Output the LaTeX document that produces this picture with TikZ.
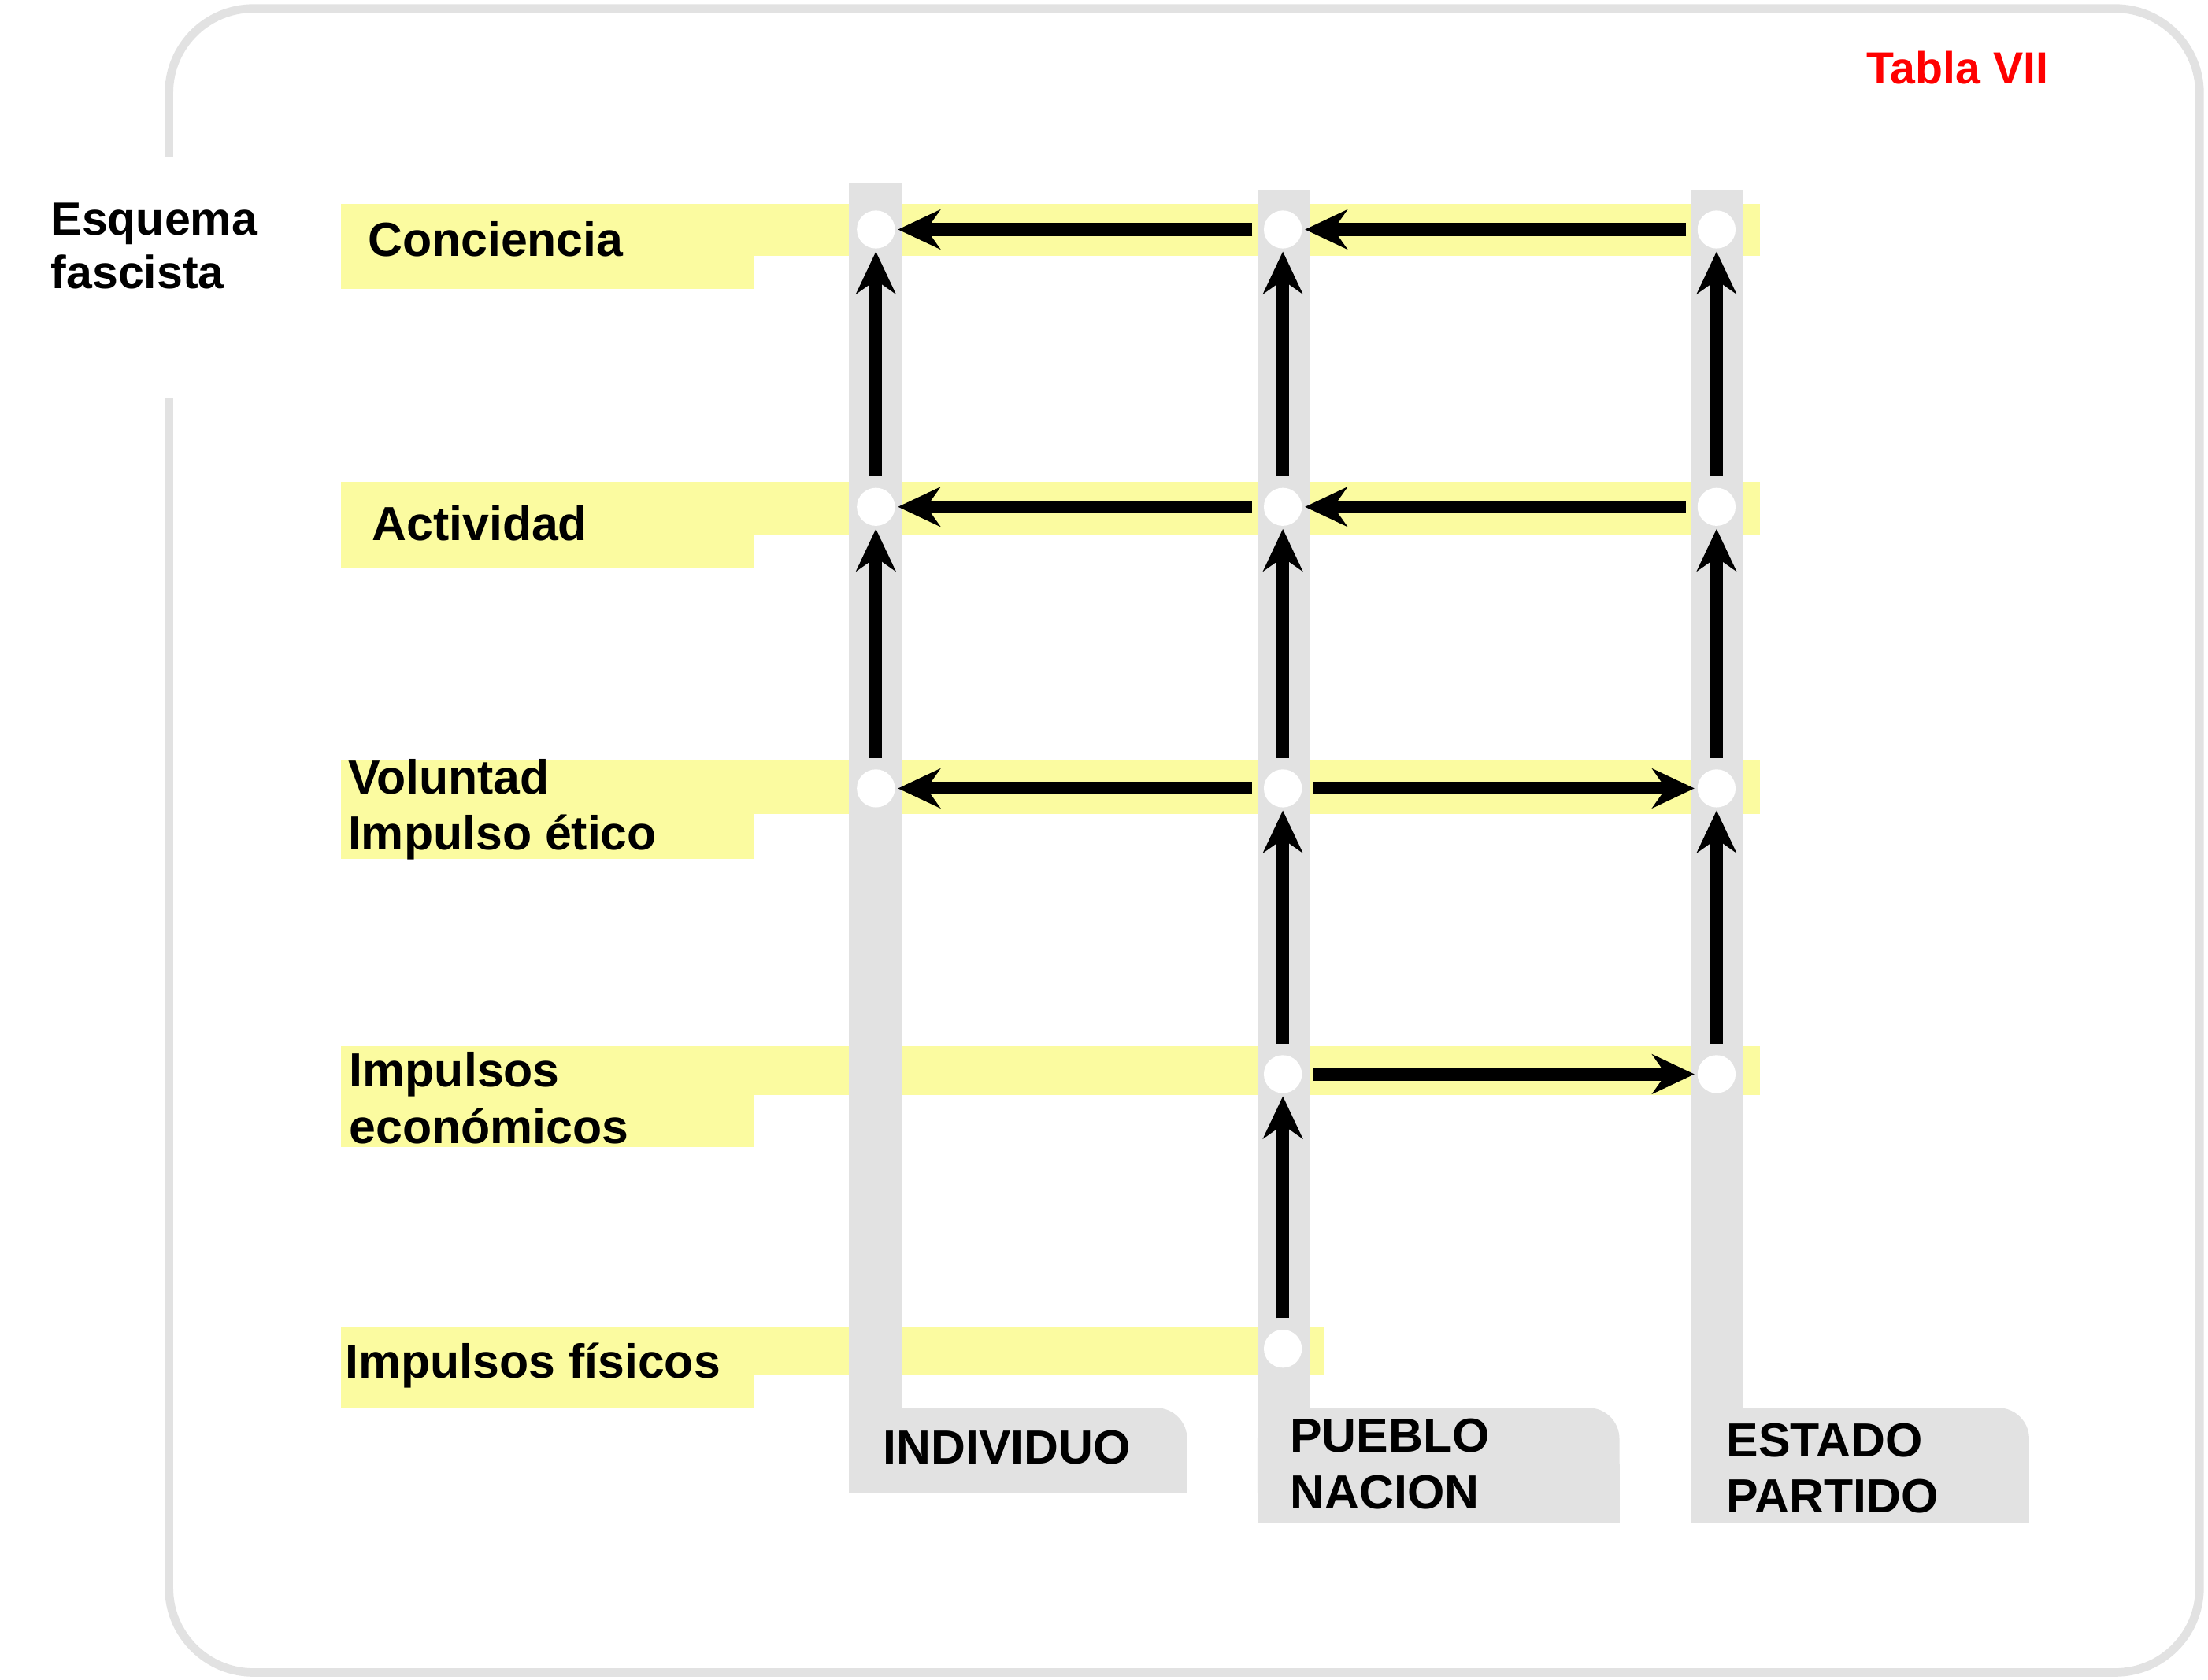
\documentclass[tikz,border=0pt]{standalone}
\usepackage{fontspec}
\setmainfont{Liberation Sans}
\usetikzlibrary{arrows.meta}
\definecolor{yel}{HTML}{FBFBA0}
\definecolor{gr}{HTML}{E2E2E2}
\begin{document}
\begin{tikzpicture}[x=1pt,y=-1pt,
  lab/.style={anchor=west,font=\fontsize{34}{40}\selectfont\bfseries,align=left,inner sep=0},
  dot/.style={circle,fill=white,minimum size=27pt,inner sep=0},
  arr/.style={line width=9pt,-{Stealth[length=30pt,width=28pt]},shorten <=8pt,shorten >=2pt}]
\useasboundingbox (0,0) rectangle (1568,1193);
\fill[white] (0,0) rectangle (1568,1193);
\draw[gr,line width=6pt,rounded corners=60pt] (120,6) rectangle (1562,1188);
\fill[white] (20,112) rectangle (125,283);
\node[lab,font=\fontsize{33}{38}\selectfont\bfseries] (esq) at (36,175) {Esquema\\fascista};
\node[text=red,font=\fontsize{32}{38}\selectfont\bfseries] (tab) at (1390,48) {Tabla VII};
% yellow bands
\foreach \t/\b/\m/\e in {145/205/182/1250,342/403/380/1250,540/610/578/1250,743/815/778/1250,942/1000/977/940}{
  \fill[yel] (242,\t) rectangle (535,\b);
  \fill[yel] (535,\t) rectangle (\e,\m);
}
% gray columns
\fill[gr] (603,130) rectangle (640,1060);
\fill[gr,rounded corners=22pt] (603,1000) -- (843,1000) -- (843,1060) -- (603,1060) -- cycle;
\fill[gr] (603,1030) rectangle (843,1060);\fill[gr] (603,1000) rectangle (700,1060);
\fill[gr] (893,135) rectangle (930,1082);
\fill[gr,rounded corners=22pt] (893,1000) -- (1150,1000) -- (1150,1082) -- (893,1082) -- cycle;
\fill[gr] (893,1040) rectangle (1150,1082);\fill[gr] (893,1000) rectangle (1000,1082);
\fill[gr] (1201,135) rectangle (1238,1082);
\fill[gr,rounded corners=22pt] (1201,1000) -- (1441,1000) -- (1441,1082) -- (1201,1082) -- cycle;
\fill[gr] (1201,1040) rectangle (1441,1082);\fill[gr] (1201,1000) rectangle (1300,1082);
% labels
\node[lab] (l1) at (261,170) {Conciencia};
\node[lab] (l2) at (264,372) {Actividad};
\node[lab] (l3) at (247,575) {Voluntad\\Impulso ético};
\node[lab] (l4) at (248,780) {Impulsos\\económicos};
\node[lab] (l5) at (245,970) {Impulsos físicos};
\node[lab] (c1) at (627,1028) {INDIVIDUO};
\node[lab] (c2) at (916,1040) {PUEBLO\\NACION};
\node[lab] (c3) at (1226,1043) {ESTADO\\PARTIDO};
% dots
\node[dot] (a1) at (622,163) {}; \node[dot] (a2) at (622,360) {}; \node[dot] (a3) at (622,560) {};
\node[dot] (b1) at (911,163) {}; \node[dot] (b2) at (911,360) {}; \node[dot] (b3) at (911,560) {};
\node[dot] (b4) at (911,763) {}; \node[dot] (b5) at (911,958) {};
\node[dot] (d1) at (1219,163) {}; \node[dot] (d2) at (1219,360) {}; \node[dot] (d3) at (1219,560) {};
\node[dot] (d4) at (1219,763) {};
% arrows
\draw[arr] (b1) -- (a1); \draw[arr] (d1) -- (b1);
\draw[arr] (b2) -- (a2); \draw[arr] (d2) -- (b2);
\draw[arr] (b3) -- (a3); \draw[arr] (b3) -- (d3);
\draw[arr] (b4) -- (d4);
\draw[arr] (a3) -- (a2); \draw[arr] (a2) -- (a1);
\draw[arr] (b5) -- (b4); \draw[arr] (b4) -- (b3); \draw[arr] (b3) -- (b2); \draw[arr] (b2) -- (b1);
\draw[arr] (d4) -- (d3); \draw[arr] (d3) -- (d2); \draw[arr] (d2) -- (d1);
\end{tikzpicture}
\end{document}
